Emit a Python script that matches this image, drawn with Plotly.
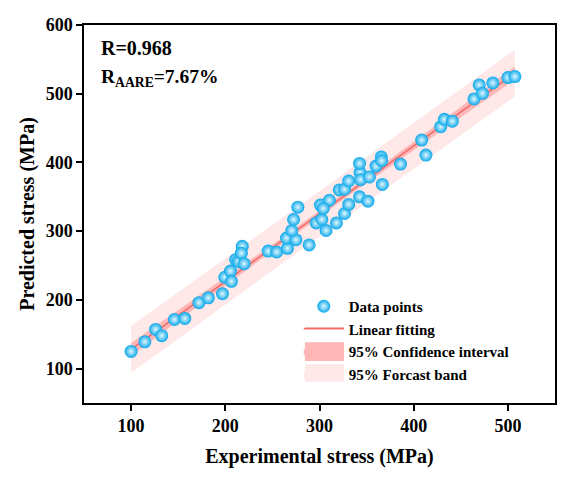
import numpy as np
import plotly.graph_objects as go

# experimental vs predicted stress (MPa)
exp_stress = [100, 114.6, 126, 132.5, 146, 157, 172, 182, 197, 199.5,
              205.5, 206.5, 211, 214, 218, 217, 220, 245.5, 254.5, 266,
              265, 275, 270.5, 272.5, 277, 296.5, 302.5, 301, 310.5, 307,
              318, 326.6, 331, 321, 326.6, 331, 342.5, 351.4, 343, 342.5,
              343.6, 353, 360, 365.6, 366, 366.7, 386, 408.5, 413, 428.7,
              432.6, 441, 464, 469.5, 473, 484, 500, 507.4, 304, 289]
pred_stress = [125, 139, 157, 148, 171.5, 173, 196, 203, 209, 233,
               242, 227, 258.6, 256, 278, 268, 252.7, 271, 269.7, 275,
               290, 287.5, 301, 317, 335, 312, 317, 338, 345, 301,
               312, 325.7, 339, 360, 361, 373, 350, 343.6, 385.5, 398.6,
               375, 379, 394.7, 408, 402.5, 368, 397.6, 432.6, 410.7, 452,
               462.7, 460, 492.4, 512.8, 500.6, 515.7, 523.5, 525, 333, 280]

R_TEXT = "R=0.968"
AARE_TEXT = "R<sub>AARE</sub>=7.67%"

FONT = "Liberation Serif"
FORECAST_COLOR = "#ffe8e8"
CONF_COLOR = "#ffb6b6"
LINE_COLOR = "#f26b6b"

x = np.array(exp_stress)
y = np.array(pred_stress)
n = len(x)
slope, icpt = np.polyfit(x, y, 1)
resid = y - (slope * x + icpt)
s = np.sqrt(np.sum(resid ** 2) / (n - 2))
t_val = 2.003
xf = np.linspace(x.min(), x.max(), 100)
yf = slope * xf + icpt
sxx = np.sum((x - x.mean()) ** 2)
ci = t_val * s * np.sqrt(1 / n + (xf - x.mean()) ** 2 / sxx)
pi = t_val * s * np.sqrt(1 + 1 / n + (xf - x.mean()) ** 2 / sxx)

fig = go.Figure()

# prediction band
fig.add_trace(go.Scatter(
    x=np.concatenate([xf, xf[::-1]]), y=np.concatenate([yf + pi, (yf - pi)[::-1]]),
    fill="toself", fillcolor=FORECAST_COLOR, line=dict(width=0),
    mode="lines", name="95% Forcast band", legendrank=4, hoverinfo="skip"))
# confidence band
fig.add_trace(go.Scatter(
    x=np.concatenate([xf, xf[::-1]]), y=np.concatenate([yf + ci, (yf - ci)[::-1]]),
    fill="toself", fillcolor=CONF_COLOR, line=dict(width=0),
    mode="lines", name="95% Confidence interval", legendrank=3, hoverinfo="skip"))
fig.add_trace(go.Scatter(
    x=xf, y=yf, mode="lines", name="Linear fitting", legendrank=2,
    line=dict(color=LINE_COLOR, width=1.5)))
fig.add_trace(go.Scatter(
    x=exp_stress, y=pred_stress, mode="markers", name="Data points", legendrank=1,
    marker=dict(size=13, color="#0aa8ea", line=dict(width=0),
                gradient=dict(type="radial", color="#dff6ff"))))

axis_common = dict(
    showline=True, linecolor="black", linewidth=1.5, mirror=True,
    ticks="outside", ticklen=6, tickwidth=1.5, tickcolor="black",
    showgrid=False, zeroline=False, automargin=False,
    tickfont=dict(family=FONT, size=18, color="black", weight="bold"),
)

fig.update_xaxes(range=[50, 550], tickvals=[100, 200, 300, 400, 500],
                 title=dict(text="<b>Experimental stress (MPa)</b>",
                            font=dict(family=FONT, size=20, color="black"), standoff=14),
                 **axis_common)
fig.update_yaxes(range=[50, 600], tickvals=[100, 200, 300, 400, 500, 600],
                 title=dict(text="<b>Predicted stress (MPa)</b>",
                            font=dict(family=FONT, size=20, color="black"), standoff=6),
                 **axis_common)

fig.add_annotation(x=0.032, y=0.94, xref="paper", yref="paper", xanchor="left", yanchor="middle",
                   text="<b>" + R_TEXT + "</b>", showarrow=False,
                   font=dict(family=FONT, size=20, color="black"))
fig.add_annotation(x=0.032, y=0.86, xref="paper", yref="paper", xanchor="left", yanchor="middle",
                   text="<b>" + AARE_TEXT + "</b>", showarrow=False,
                   font=dict(family=FONT, size=19.5, color="black"))

# wider legend swatches, as in the original legend box
fig.add_shape(type="rect", xref="paper", yref="paper", x0=0.469, x1=0.552, y0=0.111, y1=0.161,
              fillcolor=CONF_COLOR, line=dict(width=0), layer="above")
fig.add_shape(type="rect", xref="paper", yref="paper", x0=0.469, x1=0.552, y0=0.056, y1=0.103,
              fillcolor=FORECAST_COLOR, line=dict(width=0), layer="above")
fig.add_shape(type="line", xref="paper", yref="paper", x0=0.469, x1=0.552, y0=0.198, y1=0.198,
              line=dict(color=LINE_COLOR, width=1.5), layer="above")

# the page body has an 8px margin, so the figure is a bit smaller than the window
fig.update_layout(
    width=560, height=463,
    margin=dict(l=76, r=13, t=17, b=68),
    plot_bgcolor="white", paper_bgcolor="white",
    legend=dict(x=0.456, y=0.299, xanchor="left", yanchor="top",
                bgcolor="rgba(0,0,0,0)", itemwidth=40, tracegroupgap=0,
                font=dict(family=FONT, size=15, color="black", weight="bold")),
)

fig.write_html("out.html")
